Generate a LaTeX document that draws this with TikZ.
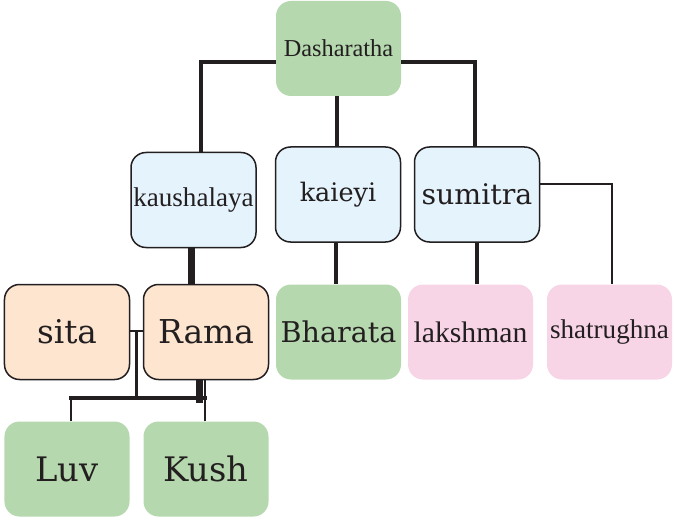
\documentclass[tikz,border=0pt]{standalone}
\usepackage{fontspec}
\newfontfamily\tms{Liberation Serif}
\newfontfamily\slab{DejaVu Serif}
\definecolor{cgreen}{HTML}{B5D8AE}
\definecolor{cblue}{HTML}{E5F4FC}
\definecolor{cpeach}{HTML}{FDE5CF}
\definecolor{cpink}{HTML}{F8D5E6}
\definecolor{cline}{HTML}{231F20}
\tikzset{
  box/.style={rectangle, rounded corners=15bp, minimum width=125bp, minimum height=95bp, inner sep=0pt, text=cline},
  gbox/.style={box, fill=cgreen},
  bbox/.style={box, fill=cblue, draw=cline, line width=1.5bp},
  pbox/.style={box, fill=cpeach, draw=cline, line width=1.5bp},
  kbox/.style={box, fill=cpink},
  wide/.style={draw=cline, line width=4bp},
  heavy/.style={draw=cline, line width=7bp},
  slim/.style={draw=cline, line width=1.5bp},
  mid/.style={draw=cline, line width=2.5bp},
}
\begin{document}
\begin{tikzpicture}[x=1bp,y=-1bp]
\useasboundingbox (0,0) rectangle (674,520);
% nodes
\node[gbox, font=\tms\fontsize{24.4}{27}\selectfont] (dash) at (338.5,48.5) {Dasharatha};
\node[bbox, font=\tms\fontsize{27.2}{29}\selectfont] (kaus) at (193.5,200) {kaushalaya};
\node[bbox, font=\slab\fontsize{25.6}{28}\selectfont] (kaie) at (338,194.5) {kaieyi};
\node[bbox, font=\slab\fontsize{28.5}{31}\selectfont] (sumi) at (477,194.5) {sumitra};
\node[pbox, font=\slab\fontsize{32.8}{36}\selectfont] (sita) at (67,332) {sita};
\node[pbox, font=\slab\fontsize{33}{36}\selectfont] (rama) at (206,332) {Rama};
\node[gbox, font=\slab\fontsize{28.7}{31}\selectfont] (bhar) at (338.5,332) {Bharata};
\node[kbox, font=\tms\fontsize{29.8}{32}\selectfont] (laks) at (470.5,332) {lakshman};
\node[kbox, font=\tms\fontsize{27.2}{30}\selectfont] (shat) at (609.5,332) {shatrughna};
\node[gbox, font=\slab\fontsize{33.9}{37}\selectfont] (luv) at (67,469) {Luv};
\node[gbox, font=\slab\fontsize{33.9}{37}\selectfont] (kush) at (206,469) {Kush};
% connectors
\draw[wide] ([yshift=-13.5bp]dash.west) -| ([xshift=7.5bp]kaus.north);
\draw[wide] ([yshift=-13.5bp]dash.east) -| ([xshift=-2bp]sumi.north);
\draw[wide] ([xshift=-2bp]dash.south) -- ([xshift=-2bp]dash.south |- kaie.north);
\draw[heavy] ([xshift=-2.5bp]kaus.south) -- ([xshift=-2.5bp]kaus.south |- rama.north);
\draw[wide] ([xshift=-2bp]kaie.south) -- ([xshift=-2bp]kaie.south |- bhar.north);
\draw[wide] (sumi.south) -- (sumi.south |- laks.north);
\draw[slim] ([yshift=10.5bp]sumi.east) -| ([xshift=2.5bp]shat.north);
\draw[mid] ([yshift=1bp]sita.east) -- ([yshift=1bp]rama.west);
\coordinate (j) at (136.5,397.5);
\draw[mid] (j |- sita.east) -- (j);
\draw[slim] ([xshift=4bp]luv.north) -- ([xshift=4bp]luv.north |- j);
\draw[slim] ([xshift=-1bp]kush.north) -- ([xshift=-1bp]kush.north |- rama.south);
\draw[wide] ([xshift=2bp]luv.north |- j) -- ([xshift=1bp]kush.north |- j);
\draw[heavy] ([xshift=-7bp]rama.south) -- ([xshift=-7bp,yshift=-23bp]rama.south);
\end{tikzpicture}
\end{document}
